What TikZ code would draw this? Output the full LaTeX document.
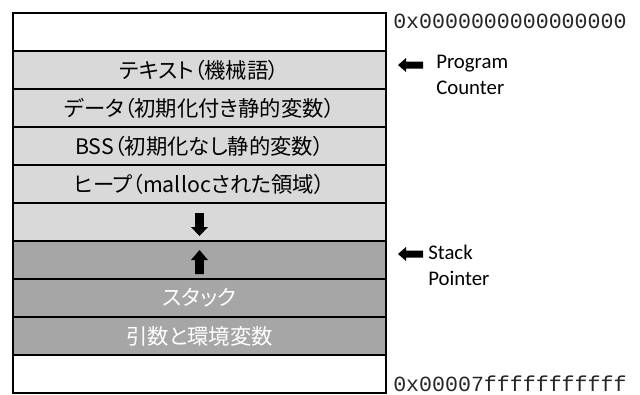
\documentclass[tikz,border=0pt]{standalone}
\usepackage{fontspec}
\setmainfont{Carlito}
\newfontfamily\jp[RawFeature=+palt]{Noto Sans CJK JP}
\newfontfamily\lat{Carlito}
\newfontfamily\mono{Liberation Mono}
\definecolor{lgray}{HTML}{D9D9D9}
\definecolor{dgray}{HTML}{A6A6A6}
\begin{document}
\begin{tikzpicture}[x=0.75pt,y=-0.75pt,
  row/.style={draw=black, line width=0.9pt, minimum width=279.75pt, minimum height=28.5pt,
    inner sep=0pt, font=\jp\fontsize{16}{18}\selectfont, text=black},
  blank/.style={row, fill=white},
  light/.style={row, fill=lgray},
  dark/.style={row, fill=dgray, text=white},
  label/.style={anchor=west, inner sep=0pt, align=left, font=\lat\fontsize{15.6}{20}\selectfont},
  addr/.style={anchor=west, inner sep=0pt, font=\mono\fontsize{16.2}{18}\selectfont, text=black!85},
  blockarrow/.style={fill=black}]
\useasboundingbox (0,0) rectangle (640,394);

\node[blank] (r0) at (199.5,32) {};
\node[light] (r1) at (199.5,70) {テキスト（機械語）};
\node[light] (r2) at (199.5,108) {データ（初期化付き静的変数）};
\node[light] (r3) at (199.5,146) {BSS（初期化なし静的変数）};
\node[light] (r4) at (199.5,184) {ヒープ（mallocされた領域）};
\node[light] (r5) at (199.5,222) {};
\node[dark] (r6) at (199.5,260) {};
\node[dark] (r7) at (199.5,298) {スタック};
\node[dark] (r8) at (199.5,336) {引数と環境変数};
\node[blank] (r9) at (199.5,374) {};

% growth arrows
\begin{scope}[shift={(r5.center)}]
  \fill[blockarrow] (-4.3,-9) -- (4.3,-9) -- (4.3,5) -- (8.5,5) -- (0,14) -- (-8.5,5) -- (-4.3,5) -- cycle;
\end{scope}
\begin{scope}[shift={(r6.center)}]
  \fill[blockarrow] (-4.3,14) -- (4.3,14) -- (4.3,0) -- (8.5,0) -- (0,-10) -- (-8.5,0) -- (-4.3,0) -- cycle;
\end{scope}

% pointer arrows
\coordinate (pc) at (398,65);
\coordinate (sp) at (398,254);
\begin{scope}[shift={(pc)}]
  \fill[blockarrow] (0,0) -- (8,-7) -- (8,-3.5) -- (25,-3.5) -- (25,3.5) -- (8,3.5) -- (8,7) -- cycle;
\end{scope}
\begin{scope}[shift={(sp)}]
  \fill[blockarrow] (0,0) -- (8,-7) -- (8,-3.5) -- (25,-3.5) -- (25,3.5) -- (8,3.5) -- (8,7) -- cycle;
\end{scope}

\node[label] (pclab) at (436,75) {Program\\Counter};
\node[label] (splab) at (428,265.5) {Stack\\Pointer};

\node[addr] (atop) at (393,21.5) {0x0000000000000000};
\node[addr] (abot) at (393,383.5) {0x00007fffffffffff};
\end{tikzpicture}
\end{document}
